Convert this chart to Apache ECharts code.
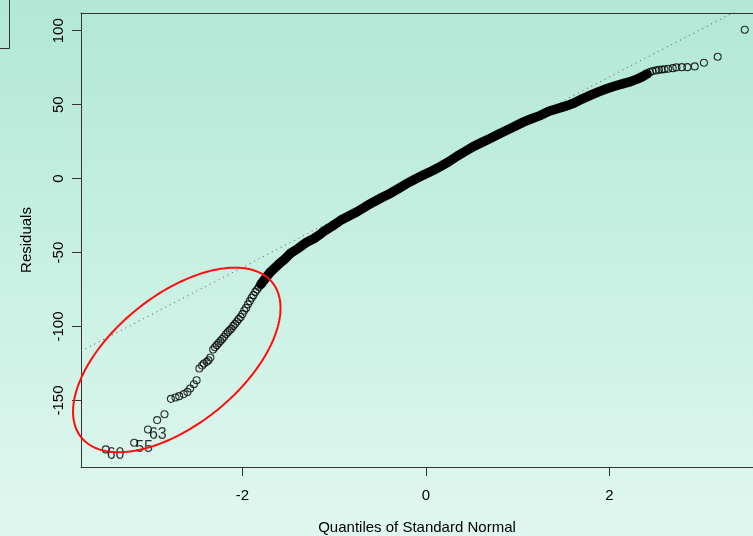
<!DOCTYPE html>
<html>
<head>
<meta charset="utf-8">
<script src="https://cdn.jsdelivr.net/npm/echarts@6/dist/echarts.min.js"></script>
<style>
  html, body { margin: 0; padding: 0; }
  #chart { width: 753px; height: 536px; }
</style>
</head>
<body>
<div id="chart"></div>
<script>
// Normal Q-Q plot of model residuals: [theoretical quantile, residual]

// Sparse lower tail (first three are the flagged observations)
const lowerTail = [
  [-3.49, -183.1], [-3.18, -178.6], [-3.03, -169.6], [-2.93, -163.3], [-2.85, -159.3],
  [-2.78, -148.9], [-2.73, -148.0], [-2.69, -147.1], [-2.64, -145.7], [-2.60, -144.2],
  [-2.57, -141.9], [-2.53, -139.0], [-2.50, -136.3], [-2.47, -128.4], [-2.44, -126.4],
  [-2.42, -125.0], [-2.39, -123.9], [-2.37, -122.8], [-2.35, -121.0], [-2.32, -115.5],
  [-2.30, -114.0], [-2.28, -112.6], [-2.26, -111.1], [-2.24, -109.8], [-2.22, -108.4],
  [-2.20, -107.0], [-2.18, -105.2], [-2.16, -103.9], [-2.14, -102.6], [-2.12, -101.4],
  [-2.10, -99.6], [-2.08, -98.2], [-2.06, -96.6], [-2.04, -95.0], [-2.02, -93.6],
  [-2.00, -91.6], [-1.98, -89.2], [-1.96, -87.4], [-1.94, -85.0], [-1.92, -82.8],
  [-1.90, -80.6], [-1.88, -78.8], [-1.86, -76.6], [-1.84, -75.0], [-1.82, -73.2]
];

// Dense central run of residuals, where the markers merge into a solid band
const centralBand = [
  [-1.80, -71.5], [-1.75, -67.5], [-1.70, -63.5], [-1.65, -60.5], [-1.59, -57.0],
  [-1.54, -54.5], [-1.48, -50.7], [-1.40, -47.5], [-1.30, -43.0], [-1.22, -40.5],
  [-1.15, -37.5], [-1.12, -36.0], [-1.02, -32.0], [-0.93, -28.2], [-0.84, -25.3],
  [-0.75, -22.4], [-0.66, -19.0], [-0.57, -15.8], [-0.48, -12.8], [-0.39, -10.0],
  [-0.30, -6.7], [-0.21, -3.4], [-0.12, -0.4], [-0.03, 2.4], [0.07, 5.3],
  [0.16, 8.3], [0.25, 11.5], [0.34, 15.2], [0.43, 18.5], [0.52, 21.8],
  [0.61, 24.5], [0.70, 27.2], [0.79, 30.0], [0.88, 32.7], [0.97, 35.5],
  [1.06, 38.2], [1.15, 40.5], [1.25, 42.8], [1.34, 45.5], [1.43, 47.3],
  [1.52, 49.0], [1.61, 51.0], [1.70, 53.8], [1.79, 56.3], [1.88, 58.7],
  [1.97, 60.8], [2.06, 62.6], [2.15, 64.2], [2.23, 65.6], [2.30, 67.3],
  [2.36, 69.0], [2.41, 70.8]
];

// Sparse upper tail
const upperTail = [
  [2.44, 72.0], [2.47, 72.7], [2.51, 73.2], [2.54, 73.6], [2.57, 73.8],
  [2.60, 74.0], [2.64, 74.3], [2.69, 74.7], [2.73, 75.2], [2.79, 75.4],
  [2.85, 75.4], [2.93, 75.9], [3.03, 78.4], [3.18, 82.4], [3.475, 100.7]
];

// Observation numbers of the three most extreme residuals (first three of lowerTail)
const flaggedIds = ['60', '55', '63'];

const xTicks = [-2, 0, 2];
const yTicks = [-150, -100, -50, 0, 50, 100];

// Reference line through the quartiles
const qqLine = { intercept: 4.4, slope: 32.2 };

const xRange = { min: -3.76, max: 3.565 };
const yRange = { min: -195, max: 112 };

const FONT = "'Liberation Sans', Arial, Helvetica, sans-serif";
const AXIS_COLOR = '#333';

const chart = echarts.init(document.getElementById('chart'), null, { renderer: 'canvas' });

const axisLineStyle = { show: true, onZero: false, lineStyle: { color: AXIS_COLOR, width: 1 } };

chart.setOption({
  animation: false,
  backgroundColor: {
    type: 'linear', x: 0, y: 0, x2: 0, y2: 1,
    colorStops: [
      { offset: 0, color: '#b2e8d5' },
      { offset: 0.5, color: '#c9f0e3' },
      { offset: 1, color: '#e0f7f0' }
    ]
  },
  grid: { left: 81, right: 0, top: 13, bottom: 69, containLabel: false, outerBoundsMode: 'none' },
  xAxis: [{
    type: 'value',
    min: xRange.min, max: xRange.max,
    position: 'bottom',
    axisLine: axisLineStyle,
    axisTick: { show: true, length: 9, inside: false, customValues: xTicks, lineStyle: { color: AXIS_COLOR } },
    axisLabel: { show: true, customValues: xTicks, margin: 21, color: '#000', fontSize: 15, fontFamily: FONT },
    splitLine: { show: false },
    name: 'Quantiles of Standard Normal',
    nameLocation: 'middle',
    nameGap: 53,
    nameTextStyle: { color: '#000', fontSize: 15, fontFamily: FONT }
  }, {
    type: 'value',
    min: xRange.min, max: xRange.max,
    position: 'top',
    axisLine: axisLineStyle,
    axisTick: { show: false },
    axisLabel: { show: false },
    splitLine: { show: false }
  }],
  yAxis: {
    type: 'value',
    min: yRange.min, max: yRange.max,
    axisLine: axisLineStyle,
    axisTick: { show: true, length: 9, customValues: yTicks, lineStyle: { color: AXIS_COLOR } },
    axisLabel: { show: true, customValues: yTicks, rotate: 90, margin: 15, color: '#000', fontSize: 15, fontFamily: FONT },
    splitLine: { show: false },
    name: 'Residuals',
    nameLocation: 'middle',
    nameRotate: 90,
    nameGap: 47,
    nameTextStyle: { color: '#000', fontSize: 15, fontFamily: FONT }
  },
  series: [
    {
      name: 'qqline',
      type: 'line',
      silent: true,
      clip: true,
      symbol: 'none',
      data: [
        [xRange.min, qqLine.intercept + qqLine.slope * xRange.min],
        [xRange.max, qqLine.intercept + qqLine.slope * xRange.max]
      ],
      lineStyle: { color: '#555', width: 1, type: [1, 4] },
      z: 1
    },
    {
      name: 'central residuals',
      type: 'line',
      silent: true,
      symbol: 'none',
      data: centralBand,
      lineStyle: { color: '#000', width: 9.5, cap: 'round', join: 'round' },
      z: 2
    },
    {
      name: 'tail residuals',
      type: 'scatter',
      silent: true,
      symbol: 'circle',
      symbolSize: 7,
      data: lowerTail.concat(upperTail),
      itemStyle: { color: 'rgba(0,0,0,0)', borderColor: '#000', borderWidth: 1.1 },
      label: {
        show: true,
        position: [5, 9],
        align: 'left',
        verticalAlign: 'middle',
        fontSize: 16,
        fontFamily: FONT,
        color: '#000',
        textBorderWidth: 0,
        formatter: p => (p.dataIndex < flaggedIds.length ? flaggedIds[p.dataIndex] : '')
      },
      z: 3
    }
  ]
});

// Red ring drawn around the heavy lower tail
const highlight = { cx: -2.716, cy: -122.6, rx: 123, ry: 64.4, angleDeg: 39.1 };
const c = chart.convertToPixel({ gridIndex: 0 }, [highlight.cx, highlight.cy]);
const th = highlight.angleDeg * Math.PI / 180;
const ringPts = [];
for (let i = 0; i < 180; i++) {
  const t = (i / 180) * Math.PI * 2;
  const ex = highlight.rx * Math.cos(t);
  const ey = highlight.ry * Math.sin(t);
  ringPts.push([
    c[0] + ex * Math.cos(th) + ey * Math.sin(th),
    c[1] - ex * Math.sin(th) + ey * Math.cos(th)
  ]);
}

chart.setOption({
  graphic: [
    {
      type: 'polygon',
      silent: true,
      z: 10,
      shape: { points: ringPts },
      style: { fill: null, stroke: '#ff0d0d', lineWidth: 2 }
    },
    {
      type: 'polyline',
      silent: true,
      z: 10,
      shape: { points: [[9.5, 0], [9.5, 48.5], [0, 48.5]] },
      style: { fill: null, stroke: AXIS_COLOR, lineWidth: 1 }
    }
  ]
});
</script>
</body>
</html>
